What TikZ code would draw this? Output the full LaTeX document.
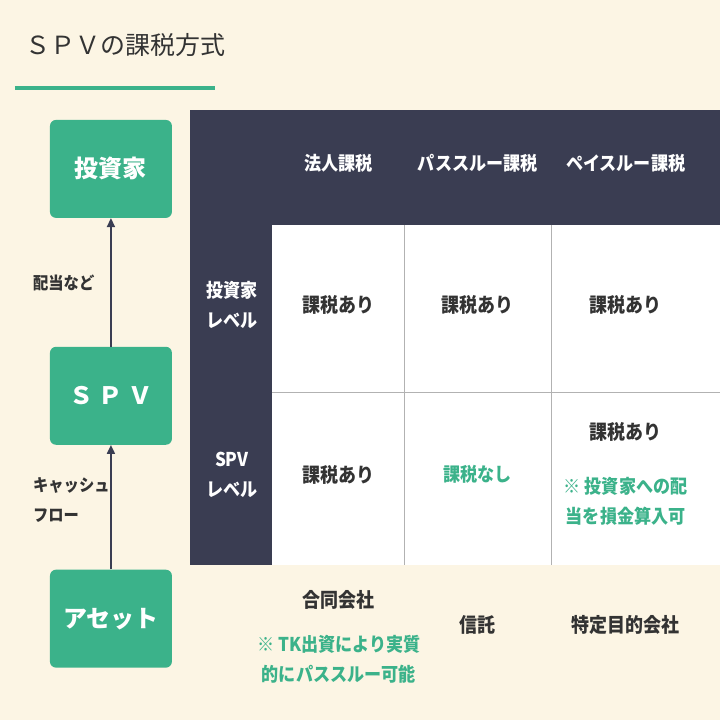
\documentclass[tikz,border=0pt]{standalone}
\usepackage{fontspec}
\setmainfont{Noto Sans CJK JP}
\usetikzlibrary{arrows.meta}
\definecolor{bg}{HTML}{FCF5E4}
\definecolor{grn}{HTML}{3BB28A}
\definecolor{navy}{HTML}{3A3D52}
\definecolor{txt}{HTML}{333333}
\tikzset{
 gbox/.style={fill=grn,rounded corners=6pt,minimum width=122pt,minimum height=98pt,text=white,font=\bfseries\fontsize{24}{28}\selectfont},
 hd/.style={text=white,font=\bfseries\fontsize{19}{30}\selectfont,align=center,xscale=0.9},
 cell/.style={text=txt,font=\bfseries\fontsize{20}{24}\selectfont,align=center,xscale=0.9},
 gcell/.style={text=grn,font=\bfseries\fontsize{19}{30}\selectfont,align=center,xscale=0.9},
 lab/.style={text=txt,font=\bfseries\fontsize{17}{30}\selectfont,align=left,xscale=0.9},
 arr/.style={-{Triangle[length=9pt,width=8pt]},line width=1.8pt,color=navy}
}
\begin{document}
\begin{tikzpicture}[x=1pt,y=-1pt]
\fill[bg] (0,0) rectangle (720,720);
\node[anchor=west,text=txt,font=\fontsize{25}{28}\selectfont] (title) at (22,45) {ＳＰＶの課税方式};
\draw[grn,line width=3.5pt] (15,88) -- (215,88);
% left flow
\node[gbox] (inv) at (111,169) {投資家};
\node[gbox] (spv) at (111,396) {Ｓ Ｐ Ｖ};
\node[gbox] (ast) at (111,619) {アセット};
\draw[arr] (spv.north) -- (inv.south);
\draw[arr] (ast.north) -- (spv.south);
\node[lab,anchor=west] (l1) at (30,283) {配当など};
\node[lab,anchor=west] (l2) at (30,500) {キャッシュ\\フロー};
% table
\fill[navy] (190,110) rectangle (720,225);
\fill[navy] (190,110) rectangle (272,565);
\fill[white] (272,225) rectangle (720,565);
\draw[gray!60,line width=0.8pt] (272,393) -- (720,393) (405,225) -- (405,565) (552,225) -- (552,565);
\node[hd] (h1) at (339,163) {法人課税};
\node[hd] (h2) at (478,163) {パススルー課税};
\node[hd] (h3) at (626,163) {ペイスルー課税};
\node[hd] (r1) at (232,305) {投資家\\レベル};
\node[hd] (r2) at (232,475) {SPV\\レベル};
\node[cell] (c11) at (339,305) {課税あり};
\node[cell] (c12) at (478,305) {課税あり};
\node[cell] (c13) at (626,305) {課税あり};
\node[cell] (c21) at (339,475) {課税あり};
\node[gcell] (c22) at (478,475) {課税なし};
\node[cell] (c23) at (626,432) {課税あり};
\node[gcell] (c23b) at (626,502) {※ 投資家への配\\当を損金算入可};
\node[cell] (b1) at (339,600) {合同会社};
\node[gcell] (b1b) at (339,660) {※ TK出資により実質\\的にパススルー可能};
\node[cell] (b2) at (478,625) {信託};
\node[cell] (b3) at (626,625) {特定目的会社};
\end{tikzpicture}
\end{document}
